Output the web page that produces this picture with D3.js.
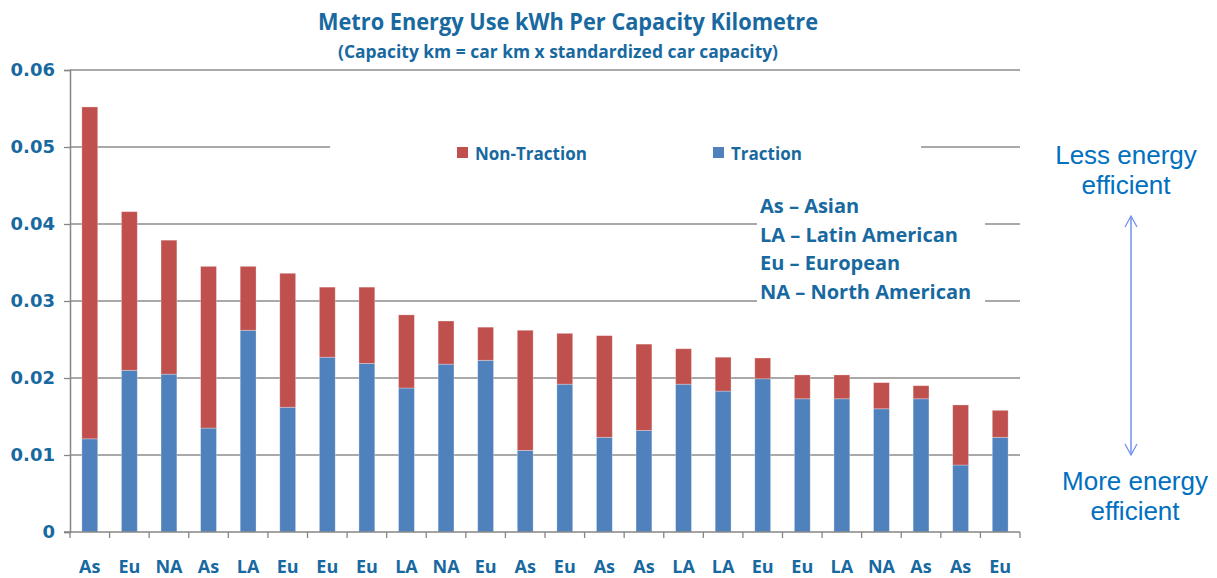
<!DOCTYPE html>
<html>
<head>
<meta charset="utf-8">
<script src="https://cdn.jsdelivr.net/npm/d3@7"></script>
<style>
  body { margin: 0; background: #fff; }
  text { fill: #17699F; }
</style>
</head>
<body>
<script>
'use-strict';

// chart data
let regions = ["As", "Eu", "NA", "As", "LA", "Eu", "Eu", "Eu", "LA", "NA", "Eu", "As",
  "Eu", "As", "As", "LA", "LA", "Eu", "Eu", "LA", "NA", "As", "As", "Eu"];
let traction = [0.0121, 0.0210, 0.0205, 0.0135, 0.0262, 0.0162, 0.0227, 0.0219, 0.0187, 0.0218, 0.0223, 0.0106,
  0.0192, 0.0123, 0.0132, 0.0192, 0.0183, 0.0199, 0.0173, 0.0173, 0.0160, 0.0173, 0.0087, 0.0123];
let nonTraction = [0.0431, 0.0206, 0.0174, 0.0210, 0.0083, 0.0174, 0.0091, 0.0099, 0.0095, 0.0056, 0.0043, 0.0156,
  0.0066, 0.0132, 0.0112, 0.0046, 0.0044, 0.0027, 0.0031, 0.0031, 0.0034, 0.0017, 0.0078, 0.0035];
let yTicks = [0, 0.01, 0.02, 0.03, 0.04, 0.05, 0.06];
let abbreviations = ["As \u2013 Asian", "LA \u2013 Latin American", "Eu \u2013 European", "NA \u2013 North American"];

let width = 1217,
  height = 578;

let colors = { traction: "#4F81BD", nonTraction: "#C0504D" };

let svg = d3.select("body")
  .append("svg")
  .attr("width", width)
  .attr("height", height);

let x = d3.scaleBand()
  .domain(d3.range(regions.length))
  .range([70, 1020])
  .paddingInner(0.6)
  .paddingOuter(0.3);

let y = d3.scaleLinear()
  .domain([0, 0.06])
  .range([532, 70]);

// gridlines
svg.append("g")
  .selectAll("line")
  .data(yTicks.slice(1))
  .join("line")
  .attr("x1", 70)
  .attr("x2", 1020)
  .attr("y1", d => y(d))
  .attr("y2", d => y(d))
  .attr("stroke", "#8c8c8c")
  .attr("stroke-width", 1.3);

// white boxes behind the legend and the abbreviation notes
svg.append("rect").attr("x", 330).attr("y", 134).attr("width", 591).attr("height", 28).attr("fill", "#fff");
svg.append("rect").attr("x", 757).attr("y", 190).attr("width", 228).attr("height", 120).attr("fill", "#fff");

// stacked bars
let rows = regions.map((r, i) => ({ i: i, traction: traction[i], nonTraction: nonTraction[i] }));
let series = d3.stack().keys(["traction", "nonTraction"])(rows);

svg.append("g")
  .selectAll("g")
  .data(series)
  .join("g")
  .attr("fill", d => colors[d.key])
  .selectAll("rect")
  .data(d => d)
  .join("rect")
  .attr("x", d => x(d.data.i))
  .attr("width", x.bandwidth())
  .attr("y", d => y(d[1]))
  .attr("height", d => y(d[0]) - y(d[1]))
  .attr("stroke", "rgba(255,255,255,0.35)")
  .attr("stroke-width", 0.8);

// y axis
let yAxis = svg.append("g")
  .attr("transform", "translate(70,0)")
  .call(d3.axisLeft(y).tickValues(yTicks).tickSize(6).tickPadding(9)
    .tickFormat(d => d === 0 ? "0" : d3.format(".2f")(d)));
yAxis.select(".domain").attr("stroke", "#868686").attr("stroke-width", 1.5);
yAxis.selectAll(".tick line").attr("stroke", "#868686").attr("stroke-width", 1.3);
yAxis.selectAll("text")
  .attr("font-family", "DejaVu Sans")
  .attr("font-weight", "bold")
  .attr("font-size", 18)
  .style("fill", "#17699F");

// x axis line and boundary ticks
svg.append("line")
  .attr("x1", 64).attr("x2", 1020)
  .attr("y1", 532).attr("y2", 532)
  .attr("stroke", "#868686").attr("stroke-width", 1.5);

svg.append("g")
  .selectAll("line")
  .data(d3.range(regions.length + 1))
  .join("line")
  .attr("x1", d => 70 + d * x.step())
  .attr("x2", d => 70 + d * x.step())
  .attr("y1", 532)
  .attr("y2", 538)
  .attr("stroke", "#868686")
  .attr("stroke-width", 1.3);

svg.append("g")
  .selectAll("text")
  .data(regions)
  .join("text")
  .attr("x", (d, i) => x(i) + x.bandwidth() / 2)
  .attr("y", 573)
  .attr("text-anchor", "middle")
  .attr("font-family", "Open Sans")
  .attr("font-weight", "bold")
  .attr("font-size", 18)
  .text(d => d);

// title
svg.append("text")
  .attr("x", 568).attr("y", 30)
  .attr("text-anchor", "middle")
  .attr("font-family", "Open Sans").attr("font-weight", "bold").attr("font-size", 23)
  .attr("textLength", 500).attr("lengthAdjust", "spacingAndGlyphs")
  .text("Metro Energy Use kWh Per Capacity Kilometre");

svg.append("text")
  .attr("x", 558).attr("y", 58)
  .attr("text-anchor", "middle")
  .attr("font-family", "Open Sans").attr("font-weight", "bold").attr("font-size", 17)
  .attr("textLength", 440).attr("lengthAdjust", "spacingAndGlyphs")
  .text("(Capacity km = car km x standardized car capacity)");

// legend
let legendItems = [
  { key: "nonTraction", label: "Non-Traction", x: 457 },
  { key: "traction", label: "Traction", x: 713 }
];
let legend = svg.append("g")
  .selectAll("g")
  .data(legendItems)
  .join("g")
  .attr("transform", d => "translate(" + d.x + ",147)");
legend.append("rect")
  .attr("width", 11).attr("height", 11)
  .attr("fill", d => colors[d.key]);
legend.append("text")
  .attr("x", 18).attr("y", 13)
  .attr("font-family", "Open Sans").attr("font-weight", "bold").attr("font-size", 17)
  .text(d => d.label);

// abbreviation notes
svg.append("g")
  .selectAll("text")
  .data(abbreviations)
  .join("text")
  .attr("x", 760)
  .attr("y", (d, i) => 213 + i * 28.5)
  .attr("font-family", "Open Sans").attr("font-weight", "bold").attr("font-size", 20)
  .text(d => d);

// efficiency annotation
let note = svg.append("g")
  .attr("font-family", "Liberation Sans")
  .attr("font-size", 26);
note.append("text").attr("x", 1126).attr("y", 164).attr("text-anchor", "middle")
  .style("fill", "#0070C0").text("Less energy");
note.append("text").attr("x", 1126).attr("y", 194).attr("text-anchor", "middle")
  .style("fill", "#0070C0").text("efficient");
note.append("text").attr("x", 1135).attr("y", 490).attr("text-anchor", "middle")
  .style("fill", "#0070C0").text("More energy");
note.append("text").attr("x", 1135).attr("y", 520).attr("text-anchor", "middle")
  .style("fill", "#0070C0").text("efficient");

let arrowColor = "#7092EE";
svg.append("line")
  .attr("x1", 1131).attr("x2", 1131)
  .attr("y1", 216).attr("y2", 455)
  .attr("stroke", arrowColor).attr("stroke-width", 1.5);
svg.append("path")
  .attr("d", "M1125,227 L1131,216 L1137,227 M1125,444 L1131,455 L1137,444")
  .attr("fill", "none")
  .attr("stroke", arrowColor)
  .attr("stroke-width", 1.3);
</script>
</body>
</html>
